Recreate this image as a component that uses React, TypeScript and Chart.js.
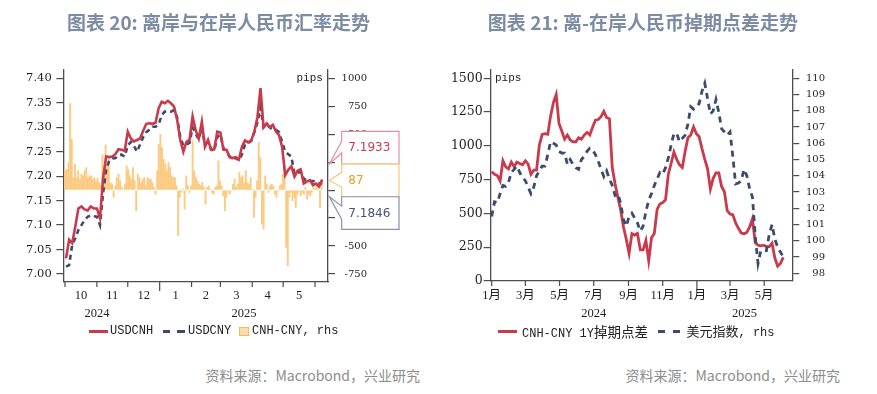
import React, { useEffect, useRef } from "react";
import { Chart, registerables } from "chart.js";
Chart.register(...registerables);

// ---------- Left chart: USDCNH / USDCNY (days since 2024-10-01) ----------
const FX_LINE_FIRST_DAY = 1;
const FX_LINE_STEP = 3;
const USDCNH = [
  7.032, 7.07, 7.063, 7.097, 7.134, 7.138, 7.132, 7.13, 7.138, 7.134,
  7.134, 7.114, 7.196, 7.24, 7.239, 7.24, 7.245, 7.255, 7.254, 7.252,
  7.291, 7.277, 7.271, 7.274, 7.277, 7.293, 7.307, 7.308, 7.307, 7.309,
  7.339, 7.352, 7.349, 7.354, 7.349, 7.342, 7.315, 7.274, 7.25, 7.27,
  7.274, 7.322, 7.294, 7.277, 7.311, 7.26, 7.274, 7.254, 7.255, 7.291,
  7.289, 7.254, 7.254, 7.239, 7.237, 7.239, 7.234, 7.26, 7.273, 7.269,
  7.273, 7.291, 7.32, 7.38, 7.3, 7.308, 7.3, 7.305, 7.291, 7.284,
  7.26, 7.202, 7.213, 7.22, 7.199, 7.211, 7.214, 7.185, 7.189, 7.192,
  7.182, 7.185, 7.179, 7.1933,
];
const USDCNY = [
  7.015, 7.018, 7.06, 7.073, 7.09, 7.1, 7.11, 7.117, 7.12, 7.118,
  7.117, 7.1, 7.165, 7.213, 7.232, 7.236, 7.237, 7.243, 7.244, 7.24,
  7.263, 7.27, 7.262, 7.25, 7.265, 7.28, 7.29, 7.295, 7.301, 7.301,
  7.305, 7.325, 7.332, 7.332, 7.332, 7.335, 7.32, 7.28, 7.262, 7.265,
  7.268, 7.3, 7.287, 7.275, 7.3, 7.265, 7.27, 7.255, 7.252, 7.28,
  7.285, 7.257, 7.25, 7.24, 7.235, 7.237, 7.232, 7.245, 7.265, 7.268,
  7.272, 7.29, 7.31, 7.34, 7.3, 7.305, 7.3, 7.295, 7.295, 7.29,
  7.27, 7.25, 7.245, 7.24, 7.205, 7.205, 7.21, 7.195, 7.19, 7.19,
  7.19, 7.188, 7.186, 7.1846,
];
const SPREAD_FIRST_DAY = 0.3;
const SPREAD_LAST_DAY = 249.4;
const CNH_CNY_PIPS = [
  173, 187, 247, 774, 455, 113, 232, 113, 173, 98,
  143, 128, 173, 202, 113, 128, 128, 98, 113, 83,
  107, 68, 39, 315, 173, 405, 232, 277, 68, 54,
  -65, 39, 113, 143, 83, 24, -6, 54, 217, 187,
  128, 98, 202, 83, -185, 143, 113, 68, 98, 113,
  39, 113, 98, 98, 68, 24, -36, 173, 410, 500,
  381, 277, 232, 173, 247, 202, 128, 113, 113, 39,
  -408, -65, -21, 9, -170, 128, 39, -21, 39, 440,
  173, 113, 83, 54, 39, 68, 24, -125, 24, 39,
  9, -21, -36, 24, 39, 262, 83, 39, -51, -185,
  -65, -6, -36, -6, 54, 98, 24, 54, 158, 113,
  128, 68, 173, 68, 54, 113, 9, -244, -65, 83,
  425, 292, -304, -348, 128, 54, -21, 39, 54, 39,
  -36, -65, -6, 39, 54, 143, 232, -512, -675, -65,
  -21, -95, -65, -155, -36, -6, -51, -21, -36, 24,
  -80, -36, -51, -21, 39, 9, 54, 9, -155, 87,
];
const FX_LEFT_TICKS = [7.0, 7.05, 7.1, 7.15, 7.2, 7.25, 7.3, 7.35, 7.4];
const FX_RIGHT_TICKS = [-750, -500, -250, 0, 250, 500, 750, 1000];
const FX_MONTH_STARTS = [0, 31, 61, 92, 123, 151, 182, 212, 243];
const FX_MONTH_LABELS = ["10", "11", "12", "1", "2", "3", "4", "5"];
const FX_YEAR_LABELS = ["2024", "2025"];
const FX_YEAR_DAYS = [31, 174];
const FX_YEAR_TICK = [92];

// ---------- Right chart: 1Y swap spread / DXY (days since 2024-01-01) ----------
const SW_STEP = 5;
const SWAP_1Y = [
  809, 790, 780, 740, 890, 845, 830, 880, 846, 880,
  870, 860, 890, 865, 790, 821, 821, 1006, 1085, 1090,
  1085, 1220, 1320, 1380, 1166, 1110, 1050, 1080, 1043, 1030,
  1030, 1060, 1050, 1080, 1100, 1080, 1140, 1190, 1195, 1216,
  1255, 1210, 1200, 840, 720, 620, 525, 400, 310, 204,
  350, 340, 352, 230, 230, 300, 150, 320, 352, 530,
  570, 580, 600, 790, 870, 955, 900, 860, 840, 960,
  1060, 1080, 1140, 1090, 1068, 980, 900, 830, 680, 760,
  800, 800, 700, 660, 520, 495, 490, 430, 390, 355,
  350, 360, 400, 460, 285, 265, 260, 265, 255, 255,
  280, 170, 110, 130, 175,
];
const DXY = [
  101.5, 102.4, 102.35, 102.9, 103.4, 103.35, 103.6, 104.2, 104.4, 104.6,
  104.2, 103.9, 103.7, 103.3, 102.9, 103.3, 104.0, 104.3, 104.6, 104.6,
  105.3, 106.1, 106.0, 105.9, 105.5, 105.4, 105.4, 104.7, 105.0, 104.7,
  104.5, 104.4, 105.0, 105.2, 105.5, 105.7, 105.6, 105.3, 104.9, 104.4,
  103.95, 104.3, 103.8, 103.4, 102.8, 102.9, 102.3, 101.3, 100.9, 101.5,
  101.7, 101.4, 101.1, 100.6, 100.9, 101.8, 102.5, 102.9, 103.4, 103.8,
  104.2, 104.1, 104.5, 105.1, 105.9, 106.6, 106.6, 106.1, 106.3, 106.5,
  107.2, 108.25, 108.1, 108.2, 108.46, 109.2, 109.7, 108.75, 107.8, 108.0,
  108.7, 107.9, 106.9, 106.7, 106.5, 106.7, 105.2, 103.5, 103.55, 103.7,
  104.4, 104.0, 103.2, 102.7, 100.3, 98.6, 99.4, 99.4, 99.4, 100.4,
  101.0, 100.1, 99.6, 99.3, 99.0,
];
const SW_LEFT_TICKS = [0, 250, 500, 750, 1000, 1250, 1500];
const SW_RIGHT_TICKS = [98, 99, 100, 101, 102, 103, 104, 105, 106, 107, 108, 109, 110];
const SW_TICK_DAYS = [0, 60, 121, 182, 244, 305, 366, 425, 486];
const SW_TICK_LABELS = ["1月", "3月", "5月", "7月", "9月", "11月", "1月", "3月", "5月"];
const SW_YEAR_LABELS = ["2024", "2025"];
const SW_YEAR_DAYS = [182, 451];
const SW_YEAR_TICK = [366];

// ---------- styles ----------
const RED = "#C93A4C";
const NAVY = "#3B4B6B";
const BAR_COLOR = "#FBCB83";
const AXIS = "#4d4d4d";
const TICK_TEXT = "#1e1e1e";
const TITLE_COLOR = "#7D8CA5";

function makeXAxisPlugin(o: any) {
  return {
    id: "customXAxis",
    afterDraw(chart: any) {
      const { ctx, chartArea, scales } = chart;
      const x = scales.x;
      ctx.save();
      ctx.strokeStyle = AXIS;
      ctx.lineWidth = 1.2;
      ctx.beginPath();
      for (const d of o.tickDays) {
        const px = x.getPixelForValue(d);
        const len = o.longTicks.includes(d) ? 9 : 5;
        ctx.moveTo(px, chartArea.bottom);
        ctx.lineTo(px, chartArea.bottom + len);
      }
      ctx.stroke();
      ctx.fillStyle = TICK_TEXT;
      ctx.font = "12.5px 'Liberation Serif', 'Noto Sans CJK SC'";
      ctx.textAlign = "center";
      ctx.textBaseline = "middle";
      o.labels.forEach((t: string, i: number) =>
        ctx.fillText(t, x.getPixelForValue(o.labelDays[i]), o.labelY)
      );
      o.years.forEach((t: string, i: number) =>
        ctx.fillText(t, x.getPixelForValue(o.yearDays[i]), o.yearY)
      );
      ctx.restore();
    },
  };
}

const calloutPlugin = {
  id: "callouts",
  afterDraw(chart: any) {
    const { ctx, chartArea, scales } = chart;
    const lastSpread = CNH_CNY_PIPS[CNH_CNY_PIPS.length - 1];
    const midY = scales.y1.getPixelForValue(lastSpread);
    const h = 32.7;
    const L = chartArea.right + 13.7;
    const W = 57.3;
    const tipX = chartArea.right + 1.3;
    const boxes = [
      { top: midY - 1.5 * h, text: USDCNH[USDCNH.length - 1].toFixed(4), border: "#E3909A", color: "#CF3A4E", tipY: midY - h / 2, a: 10, b: 21.6 },
      { top: midY - h / 2, text: String(lastSpread), border: "#FBC77A", color: "#F29B1C", tipY: midY, a: 8.3, b: 23.3 },
      { top: midY + h / 2, text: USDCNY[USDCNY.length - 1].toFixed(4), border: "#8593AB", color: "#44536F", tipY: midY + h / 2, a: 9.4, b: 22.7 },
    ];
    ctx.save();
    for (const b of boxes) {
      ctx.beginPath();
      ctx.moveTo(L, b.top);
      ctx.lineTo(L + W, b.top);
      ctx.lineTo(L + W, b.top + h);
      ctx.lineTo(L, b.top + h);
      ctx.lineTo(L, b.top + b.b);
      ctx.lineTo(tipX, b.tipY);
      ctx.lineTo(L, b.top + b.a);
      ctx.closePath();
      ctx.fillStyle = "#ffffff";
      ctx.fill();
      ctx.strokeStyle = b.border;
      ctx.lineWidth = 1.2;
      ctx.stroke();
    }
    for (const b of boxes) {
      ctx.fillStyle = b.color;
      ctx.font = "12px 'DejaVu Sans'";
      ctx.textAlign = "left";
      ctx.textBaseline = "middle";
      ctx.fillText(b.text, L + 6.6, b.top + h / 2 + 0.5);
    }
    ctx.restore();
  },
};

function yAxis(position: string, min: number, max: number, ticks: number[], fmt: (v: number) => string, size: number, pad: number, width: number, far: boolean) {
  return {
    type: "linear",
    position,
    min,
    max,
    afterBuildTicks: (s: any) => {
      s.ticks = ticks.map((v) => ({ value: v }));
    },
    afterFit: (s: any) => {
      s.width = width;
    },
    ticks: {
      autoSkip: false,
      callback: (v: any) => fmt(Number(v)),
      font: { family: "'DejaVu Serif'", size },
      color: TICK_TEXT,
      padding: pad,
      crossAlign: far ? "far" : "near",
    },
    grid: { drawOnChartArea: false, drawTicks: true, tickLength: 7, color: AXIS, lineWidth: 1.2 },
    border: { display: true, color: AXIS, width: 1.3 },
  };
}

function leftConfig(): any {
  const barStep = (SPREAD_LAST_DAY - SPREAD_FIRST_DAY) / (CNH_CNY_PIPS.length - 1);
  const monthMid = FX_MONTH_LABELS.map((_, i) => (FX_MONTH_STARTS[i] + FX_MONTH_STARTS[i + 1]) / 2);
  return {
    type: "line",
    data: {
      datasets: [
        {
          type: "line", label: "USDCNH", yAxisID: "y", order: 0,
          data: USDCNH.map((v, i) => ({ x: FX_LINE_FIRST_DAY + i * FX_LINE_STEP, y: v })),
          borderColor: RED, borderWidth: 2.6, pointRadius: 0, tension: 0,
        },
        {
          type: "line", label: "USDCNY", yAxisID: "y", order: 1,
          data: USDCNY.map((v, i) => ({ x: FX_LINE_FIRST_DAY + i * FX_LINE_STEP, y: v })),
          borderColor: NAVY, borderWidth: 2.6, borderDash: [5, 4], pointRadius: 0, tension: 0,
        },
        {
          type: "bar", label: "CNH-CNY, rhs", yAxisID: "y1", order: 2,
          data: CNH_CNY_PIPS.map((v, i) => ({ x: SPREAD_FIRST_DAY + i * barStep, y: v })),
          backgroundColor: BAR_COLOR, borderWidth: 0, barThickness: 1.3,
        },
      ],
    },
    options: {
      animation: false,
      responsive: false,
      maintainAspectRatio: false,
      layout: { padding: { top: 70, left: 0, right: 73, bottom: 0 } },
      plugins: { legend: { display: false }, tooltip: { enabled: false }, title: { display: false } },
      scales: {
        x: {
          type: "linear", min: -1.65, max: 255.6, offset: false,
          ticks: { display: false }, grid: { display: false, offset: false },
          border: { display: true, color: AXIS, width: 1.3 },
          afterFit: (s: any) => { s.height = 68; },
        },
        y: yAxis("left", 6.9837, 7.417, FX_LEFT_TICKS, (v) => v.toFixed(2), 11.5, 4.6, 63.3, false),
        y1: yAxis("right", -821.5, 1074.2, FX_RIGHT_TICKS, (v) => String(v), 10, 6.6, 39, true),
      },
    },
    plugins: [
      makeXAxisPlugin({
        tickDays: FX_MONTH_STARTS, longTicks: FX_YEAR_TICK,
        labels: FX_MONTH_LABELS, labelDays: monthMid,
        years: FX_YEAR_LABELS, yearDays: FX_YEAR_DAYS, labelY: 296, yearY: 314,
      }),
      calloutPlugin,
    ],
  };
}

function rightConfig(): any {
  return {
    type: "line",
    data: {
      datasets: [
        {
          type: "line", label: "CNH-CNY 1Y掉期点差", yAxisID: "y", order: 1,
          data: SWAP_1Y.map((v, i) => ({ x: i * SW_STEP, y: v })),
          borderColor: RED, borderWidth: 2.8, pointRadius: 0, tension: 0,
        },
        {
          type: "line", label: "美元指数, rhs", yAxisID: "y1", order: 0,
          data: DXY.map((v, i) => ({ x: i * SW_STEP, y: v })),
          borderColor: NAVY, borderWidth: 2.8, borderDash: [6, 5], pointRadius: 0, tension: 0,
        },
      ],
    },
    options: {
      animation: false,
      responsive: false,
      maintainAspectRatio: false,
      layout: { padding: { top: 70, left: 0, right: 52, bottom: 0 } },
      plugins: { legend: { display: false }, tooltip: { enabled: false }, title: { display: false } },
      scales: {
        x: {
          type: "linear", min: -1.78, max: 536.1, offset: false,
          ticks: { display: false }, grid: { display: false },
          border: { display: true, color: AXIS, width: 1.3 },
          afterFit: (s: any) => { s.height = 69; },
        },
        y: yAxis("left", 0, 1561.4, SW_LEFT_TICKS, (v) => String(v), 12.5, 1, 52.7, false),
        y1: yAxis("right", 97.526, 110.511, SW_RIGHT_TICKS, (v) => String(v), 10, 6.6, 32.7, true),
      },
    },
    plugins: [
      makeXAxisPlugin({
        tickDays: SW_TICK_DAYS, longTicks: SW_YEAR_TICK,
        labels: SW_TICK_LABELS, labelDays: SW_TICK_DAYS,
        years: SW_YEAR_LABELS, yearDays: SW_YEAR_DAYS, labelY: 296, yearY: 314,
      }),
    ],
  };
}

const abs = (o: any): React.CSSProperties => ({ position: "absolute", whiteSpace: "nowrap", ...o });
const MONO = "'Liberation Mono', 'DejaVu Sans Mono', monospace";
const CJK = "'Noto Sans CJK SC', sans-serif";

export default function App() {
  const leftRef = useRef<HTMLCanvasElement>(null);
  const rightRef = useRef<HTMLCanvasElement>(null);
  useEffect(() => {
    const c1 = new Chart(leftRef.current as HTMLCanvasElement, leftConfig());
    const c2 = new Chart(rightRef.current as HTMLCanvasElement, rightConfig());
    return () => {
      c1.destroy();
      c2.destroy();
    };
  }, []);

  const legendText = { fontFamily: MONO, fontSize: 12, lineHeight: "14px", color: "#222", top: 324 };
  return (
    <div style={{ position: "fixed", left: 0, top: 0, width: 877, height: 394, background: "#fff", overflow: "hidden" }}>
      <canvas ref={leftRef} width={440} height={350} style={abs({ left: 0, top: 0, width: 440, height: 350 })} />
      <canvas ref={rightRef} width={439} height={350} style={abs({ left: 438, top: 0, width: 439, height: 350 })} />

      <div style={abs({ left: 0, width: 437, top: 11, textAlign: "center", fontFamily: CJK, fontWeight: 700, fontSize: 19, lineHeight: "22px", color: TITLE_COLOR })}>
        图表 20: 离岸与在岸人民币汇率走势
      </div>
      <div style={abs({ left: 443, width: 400, top: 11, textAlign: "center", fontFamily: CJK, fontWeight: 700, fontSize: 19, lineHeight: "22px", color: TITLE_COLOR })}>
        图表 21: 离-在岸人民币掉期点差走势
      </div>

      <div style={abs({ left: 296.5, top: 71, fontFamily: MONO, fontSize: 11, lineHeight: "14px", color: "#222" })}>pips</div>
      <div style={abs({ left: 495, top: 71, fontFamily: MONO, fontSize: 11, lineHeight: "14px", color: "#222" })}>pips</div>

      {/* left legend */}
      <div style={abs({ left: 89.3, top: 329.5, width: 19, height: 3, background: RED })} />
      <div style={abs({ left: 110, ...legendText })}>USDCNH</div>
      <div style={abs({ left: 162.7, top: 329.5, width: 7.3, height: 3, background: NAVY })} />
      <div style={abs({ left: 177.3, top: 329.5, width: 7.5, height: 3, background: NAVY })} />
      <div style={abs({ left: 188, ...legendText })}>USDCNY</div>
      <div style={abs({ left: 239, top: 326.5, width: 7.5, height: 7.5, background: "#FDDCAA", border: "1px solid #F6B860" })} />
      <div style={abs({ left: 252, ...legendText })}>CNH-CNY, rhs</div>

      {/* right legend */}
      <div style={abs({ left: 498, top: 329.5, width: 19, height: 3, background: RED })} />
      <div style={abs({ left: 522, ...legendText })}>
        CNH-CNY 1Y<span style={{ fontFamily: CJK, fontSize: 13.5 }}>掉期点差</span>
      </div>
      <div style={abs({ left: 658, top: 329.5, width: 6.5, height: 3, background: NAVY })} />
      <div style={abs({ left: 673, top: 329.5, width: 7, height: 3, background: NAVY })} />
      <div style={abs({ left: 686.5, ...legendText })}>
        <span style={{ fontFamily: CJK, fontSize: 13 }}>美元指数</span>, rhs
      </div>

      <div style={abs({ right: 877 - 420, top: 366, fontFamily: CJK, fontSize: 14, lineHeight: "18px", color: "#8c8c8c" })}>
        资料来源：Macrobond，兴业研究
      </div>
      <div style={abs({ right: 877 - 840, top: 366, fontFamily: CJK, fontSize: 14, lineHeight: "18px", color: "#8c8c8c" })}>
        资料来源：Macrobond，兴业研究
      </div>
    </div>
  );
}
